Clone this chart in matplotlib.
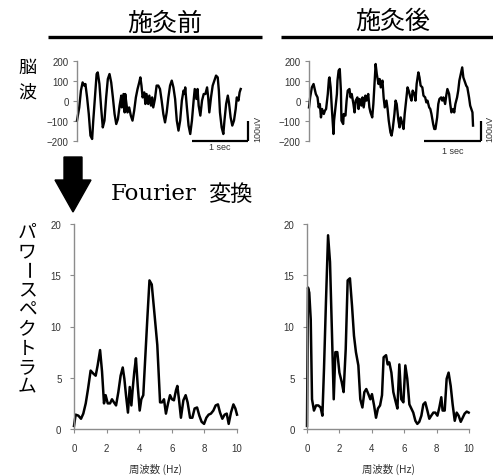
import numpy as np
import matplotlib
matplotlib.use("Agg")
import matplotlib.pyplot as plt
from matplotlib.patches import Polygon

plt.rcParams["font.family"] = ["Liberation Sans", "Noto Sans CJK JP"]
CJK = ["Noto Sans CJK JP", "DejaVu Sans"]

# EEG before treatment (time s, amplitude uV)
t_pre = [0.00, 0.04, 0.07, 0.10, 0.13, 0.15, 0.18, 0.21, 0.24, 0.27, 0.29, 0.32, 0.35, 0.37, 0.40,
         0.43, 0.46, 0.49, 0.52, 0.55, 0.58, 0.61, 0.64, 0.67, 0.70, 0.73, 0.76, 0.79, 0.80, 0.83,
         0.85, 0.86, 0.89, 0.90, 0.93, 0.96, 0.99, 1.02, 1.05, 1.08, 1.11, 1.13, 1.15, 1.17, 1.20,
         1.22, 1.24, 1.27, 1.29, 1.32, 1.34, 1.36, 1.39, 1.42, 1.45, 1.48, 1.51, 1.54, 1.57, 1.60,
         1.63, 1.66, 1.69, 1.72, 1.75, 1.78, 1.81, 1.84, 1.87, 1.90, 1.92, 1.93, 1.96, 1.99, 2.02,
         2.05, 2.08, 2.10, 2.13, 2.15, 2.17, 2.20, 2.23, 2.26, 2.29, 2.32, 2.34, 2.36, 2.39, 2.42,
         2.45, 2.48, 2.51, 2.53, 2.55, 2.58, 2.61, 2.63, 2.66, 2.69, 2.71, 2.74, 2.77, 2.80, 2.83,
         2.85, 2.88, 2.90, 2.92]
v_pre = [-98, -32, 52, 93, 77, 85, 18, -65, -173, -190, -98, 18, 135, 143, 85, -32, -132, -98, 18, 110,
         135, 93, 18, -65, -115, -90, -23, 27, -32, 35, -57, 35, -32, -57, -32, -73, -98, -48, 18, 60,
         93, 118, 77, 18, 43, -15, 35, -15, 27, -23, 18, -32, 10, 77, 77, 60, 2, -65, -107, -57,
         18, 77, 102, 68, 10, -98, -148, -98, 2, 52, 35, 68, -32, -123, -165, -98, 2, 60, 10, 60,
         -23, -73, 2, 35, 35, 68, 18, -57, 18, 77, 102, 127, 118, 52, -57, -132, -165, -98, -15, 27,
         -7, -82, -123, -98, -40, 18, 2, 43, 60]

# EEG after treatment
t_post = [0.00, 0.02, 0.05, 0.08, 0.10, 0.12, 0.15, 0.17, 0.19, 0.21, 0.23, 0.26, 0.28, 0.30, 0.33,
          0.35, 0.36, 0.38, 0.40, 0.43, 0.44, 0.47, 0.49, 0.50, 0.52, 0.54, 0.56, 0.57, 0.60, 0.61,
          0.64, 0.66, 0.68, 0.71, 0.73, 0.75, 0.78, 0.80, 0.82, 0.85, 0.87, 0.89, 0.92, 0.94, 0.96,
          0.99, 1.01, 1.04, 1.06, 1.08, 1.11, 1.13, 1.15, 1.17, 1.19, 1.22, 1.24, 1.26, 1.29, 1.31,
          1.33, 1.36, 1.38, 1.40, 1.43, 1.45, 1.47, 1.50, 1.52, 1.54, 1.57, 1.59, 1.61, 1.64, 1.66,
          1.68, 1.71, 1.73, 1.75, 1.78, 1.80, 1.82, 1.85, 1.87, 1.89, 1.92, 1.94, 1.96, 1.99, 2.01,
          2.04, 2.06, 2.08, 2.11, 2.13, 2.15, 2.18, 2.20, 2.22, 2.25, 2.27, 2.29, 2.32, 2.34, 2.36,
          2.39, 2.41, 2.43, 2.46, 2.48, 2.50, 2.53, 2.55, 2.57, 2.60, 2.62, 2.64, 2.67, 2.69, 2.71,
          2.74, 2.76, 2.78, 2.81, 2.83, 2.85, 2.87, 2.88]
v_post = [-32, 18, 68, 85, 60, 35, 18, -32, -15, -82, -40, -65, -48, -40, 35, 110, 118, 68, -32, -165,
          -98, -15, 35, 102, 152, 160, 52, -98, -115, -65, -73, 2, 52, 60, 18, 35, -15, -57, 2, 18,
          -40, 10, -23, 18, -32, 27, 2, 35, -32, -57, -82, -15, 85, 185, 135, 85, 110, 68, 102, 18,
          -32, 2, -40, -98, -157, -173, -140, -65, 2, -15, -98, -132, -82, -115, -140, -65, 18, 68, 52, 18,
          2, 52, 35, 2, 85, 143, 118, 77, 68, 27, 18, -7, 2, -32, -40, -65, -115, -140, -140, -82,
          -15, 10, 18, 2, 18, -15, 27, 60, 35, -15, -57, -40, -57, -15, 18, 52, 102, 143, 168, 118,
          93, 77, 68, 18, -23, -40, -57, -123]

# power spectra (Hz, power)
f_pre = [0.00, 0.10, 0.27, 0.43, 0.57, 0.72, 0.86, 1.02, 1.19, 1.33, 1.45, 1.60, 1.72, 1.84, 1.94,
         2.07, 2.21, 2.33, 2.45, 2.58, 2.72, 2.86, 2.99, 3.09, 3.19, 3.31, 3.42, 3.52, 3.60, 3.70,
         3.80, 3.91, 4.03, 4.13, 4.25, 4.38, 4.50, 4.63, 4.77, 4.95, 5.11, 5.28, 5.40, 5.52, 5.64,
         5.77, 5.89, 6.01, 6.13, 6.26, 6.34, 6.44, 6.56, 6.71, 6.85, 6.97, 7.12, 7.26, 7.40, 7.55,
         7.69, 7.83, 7.98, 8.12, 8.26, 8.40, 8.55, 8.69, 8.83, 8.96, 9.10, 9.24, 9.37, 9.49, 9.63,
         9.78, 9.90, 10.00]
p_pre = [0.3, 1.4, 1.3, 1.0, 1.5, 2.5, 3.9, 5.7, 5.4, 5.2, 6.2, 7.7, 5.6, 2.5, 3.3,
         2.5, 2.5, 2.9, 2.6, 2.3, 3.6, 5.2, 6.0, 4.9, 3.3, 1.6, 4.1, 2.3, 3.9, 5.6,
         6.9, 4.2, 1.8, 2.9, 3.3, 7.2, 10.8, 14.5, 14.1, 11.0, 8.2, 2.6, 2.6, 2.9, 1.5,
         2.5, 3.3, 2.9, 2.8, 3.8, 4.2, 2.9, 1.1, 2.8, 3.3, 2.6, 1.1, 1.1, 2.0, 2.1,
         1.3, 0.7, 0.5, 1.1, 1.4, 1.5, 1.8, 2.3, 2.4, 1.6, 1.0, 1.4, 1.5, 0.5, 1.6,
         2.4, 2.0, 1.4]
f_post = [0.00, 0.06, 0.14, 0.23, 0.31, 0.43, 0.56, 0.70, 0.84, 0.95, 1.05, 1.17, 1.30, 1.42, 1.54,
          1.65, 1.75, 1.87, 2.00, 2.14, 2.26, 2.39, 2.51, 2.65, 2.78, 2.90, 3.02, 3.17, 3.29, 3.42,
          3.54, 3.66, 3.79, 3.91, 4.01, 4.14, 4.26, 4.38, 4.51, 4.63, 4.73, 4.88, 4.98, 5.08, 5.21,
          5.33, 5.45, 5.58, 5.70, 5.82, 5.95, 6.07, 6.19, 6.32, 6.44, 6.56, 6.69, 6.81, 6.93, 7.06,
          7.18, 7.30, 7.43, 7.55, 7.67, 7.80, 7.92, 8.05, 8.17, 8.29, 8.37, 8.50, 8.62, 8.74, 8.87,
          8.99, 9.12, 9.24, 9.36, 9.49, 9.61, 9.73, 9.86, 9.98]
p_post = [0.3, 13.8, 13.3, 10.7, 2.9, 1.8, 2.3, 2.3, 2.1, 1.3, 5.9, 12.4, 18.9, 16.3, 9.4,
          2.9, 7.5, 7.5, 5.5, 4.6, 3.6, 7.8, 14.5, 14.7, 12.0, 9.1, 7.5, 6.2, 2.9, 2.1,
          3.6, 3.9, 3.4, 2.9, 3.4, 2.3, 1.1, 2.0, 2.3, 3.3, 7.0, 7.2, 6.3, 6.5, 5.5,
          3.6, 2.8, 2.0, 6.3, 2.9, 2.6, 6.2, 4.9, 2.4, 2.0, 1.6, 0.8, 0.5, 0.7, 1.3,
          2.4, 2.6, 1.8, 1.0, 1.3, 1.6, 1.6, 1.3, 2.1, 3.1, 1.8, 1.8, 4.9, 5.5, 4.2,
          2.4, 0.8, 1.6, 1.3, 0.7, 1.1, 1.5, 1.7, 1.6]

eeg_ticks = [-200, -100, 0, 100, 200]
pow_yticks = [0, 5, 10, 15, 20]
pow_xticks = [0, 2, 4, 6, 8, 10]
titles = ["施灸前", "施灸後"]
ylab_eeg = "脳波"
ylab_pow = "パワースペクトラム"
xlab_pow = "周波数 (Hz)"

W, H = 493, 477
fig = plt.figure(figsize=(W / 100, H / 100), dpi=100)
SPINE = "#8c8c8c"
TXT = "#333333"


def box(x0, y0, x1, y1):
    # pixel box (top-left origin) -> figure fraction rect
    return [x0 / W, 1 - y1 / H, (x1 - x0) / W, (y1 - y0) / H]


def style(ax, pad):
    for s in ["top", "right"]:
        ax.spines[s].set_visible(False)
    for s in ["left", "bottom"]:
        ax.spines[s].set_color(SPINE)
        ax.spines[s].set_linewidth(1.0)
    ax.tick_params(direction="out", length=3, width=0.8, color=SPINE,
                   labelsize=7, labelcolor=TXT, pad=pad)
    ax.patch.set_alpha(0)


# overlay in pixel coordinates for labels / decorations
ov = fig.add_axes([0, 0, 1, 1])
ov.set_xlim(0, W)
ov.set_ylim(H, 0)
ov.axis("off")

eeg = [(t_pre, v_pre, (77, 248), 3.05), (t_post, v_post, (309, 481), 3.02)]
for (t, v, (x0, x1), tmax) in eeg:
    ax = fig.add_axes(box(x0, 62, x1, 142))
    ax.plot(t, v, color="black", lw=1.7, clip_on=False)
    ax.set_xlim(0, tmax)
    ax.set_ylim(-200, 200)
    ax.set_yticks(eeg_ticks)
    style(ax, 3)
    ax.spines["bottom"].set_visible(False)
    ax.set_xticks([])
    # scale bars: 1 sec / 100 uV
    ax.plot([tmax - 1, tmax], [-200, -200], color="black", lw=1.6, clip_on=False,
            solid_capstyle="butt")
    ax.plot([tmax, tmax], [-200, -100], color="black", lw=1.6, clip_on=False,
            solid_capstyle="butt")

ov.text(220, 148, "1 sec", ha="center", va="center", fontsize=6.5, color=TXT)
ov.text(453, 152, "1 sec", ha="center", va="center", fontsize=6.5, color=TXT)
ov.text(258, 129, "100uV", ha="center", va="center", rotation=90, fontsize=6.5, color=TXT)
ov.text(490, 129, "100uV", ha="center", va="center", rotation=90, fontsize=6.5, color=TXT)

spec = [(f_pre, p_pre, (74, 237)), (f_post, p_post, (307, 469))]
for (f, p, (x0, x1)) in spec:
    ax = fig.add_axes(box(x0, 225, x1, 430))
    ax.plot(f, p, color="black", lw=1.8, clip_on=False)
    ax.set_xlim(0, 10)
    ax.set_ylim(0, 20)
    ax.set_xticks(pow_xticks)
    ax.set_yticks(pow_yticks)
    style(ax, 6)
    ax.tick_params(axis="x", pad=7)
    ax.set_xlabel(xlab_pow, fontsize=7.5, color=TXT, family=CJK, labelpad=7)

# titles with underline
ov.text(165, 24, titles[0], ha="center", va="center", fontsize=18, family=CJK)
ov.text(393, 22, titles[1], ha="center", va="center", fontsize=18, family=CJK)
ov.plot([48, 262], [38, 38], color="black", lw=2.4, solid_capstyle="butt")
ov.plot([281, 493], [38, 38], color="black", lw=2.4, solid_capstyle="butt")

# vertical labels
for i, ch in enumerate(ylab_eeg):
    ov.text(27, 68 + 25 * i, ch, ha="center", va="center", fontsize=13, family=CJK)
for i, ch in enumerate(ylab_pow):
    rot = -90 if ch == "ー" else 0
    ov.text(27, 232 + 19.4 * i, ch, ha="center", va="center", fontsize=13.5,
            family=CJK, rotation=rot, rotation_mode="anchor")

# down arrow + Fourier label
ov.add_patch(Polygon([(64, 158), (82, 158), (82, 181), (91, 181), (73, 213),
                      (55, 181), (64, 181)], closed=True, color="black"))
ov.text(111, 194, "Fourier", ha="left", va="center", fontsize=16.5, family="DejaVu Serif")
ov.text(208, 194, "変換", ha="left", va="center", fontsize=16, family=CJK)

fig.savefig("out.png", dpi=100)
